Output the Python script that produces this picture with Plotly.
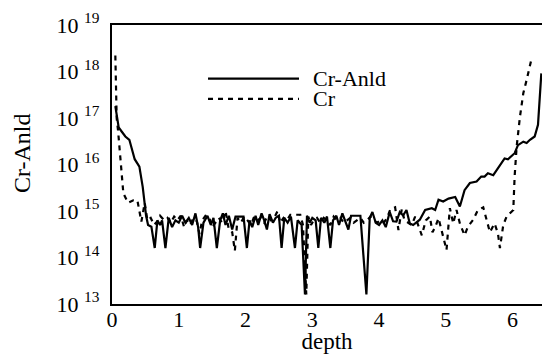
import plotly.graph_objects as go

# ---- data ----
depth_anld = [0.05, 0.10, 0.15, 0.20, 0.26, 0.30, 0.34, 0.41, 0.46, 0.51, 0.54, 0.59, 0.64, 0.68, 0.72,
              0.75, 0.80, 0.85, 0.90, 0.95, 1.00, 1.05, 1.10, 1.15, 1.20, 1.25, 1.29, 1.32, 1.37, 1.43,
              1.48, 1.52, 1.57, 1.62, 1.66, 1.70, 1.75, 1.80, 1.85, 1.92, 1.97, 2.02, 2.06, 2.10, 2.15,
              2.19, 2.24, 2.28, 2.32, 2.36, 2.41, 2.45, 2.50, 2.54, 2.58, 2.63, 2.68, 2.74, 2.78, 2.84,
              2.89, 2.92, 2.96, 3.00, 3.05, 3.09, 3.13, 3.18, 3.22, 3.27, 3.31, 3.36, 3.40, 3.45, 3.50,
              3.54, 3.58, 3.66, 3.72, 3.81, 3.86, 3.90, 3.95, 4.00, 4.05, 4.10, 4.16, 4.21, 4.26, 4.31,
              4.36, 4.41, 4.46, 4.51, 4.61, 4.69, 4.79, 4.84, 4.89, 4.96, 5.04, 5.14, 5.21, 5.28, 5.36,
              5.46, 5.53, 5.58, 5.63, 5.71, 5.81, 5.88, 5.93, 6.03, 6.08, 6.16, 6.21, 6.26, 6.33, 6.38,
              6.43]
cr_anld = [1.8e17, 6.3e16, 5.0e16, 4.0e16, 3.4e16, 2.2e16, 1.3e16, 9.0e15, 3.3e15, 8.0e14, 5.0e14, 4.6e14,
           1.6e14, 6.3e14, 5.0e14, 6.3e14, 1.6e14, 7.1e14, 4.5e14, 6.3e14, 5.6e14, 7.9e14, 5.6e14, 7.1e14,
           5.0e14, 8.9e14, 4.5e14, 1.6e14, 5.6e14, 7.9e14, 5.0e14, 7.1e14, 1.6e14, 6.3e14, 8.9e14, 5.0e14,
           7.9e14, 4.0e14, 7.6e14, 7.6e14, 7.6e14, 1.6e14, 6.3e14, 4.5e14, 7.9e14, 5.0e14, 8.9e14, 6.3e14,
           4.0e14, 8.5e14, 5.6e14, 7.1e14, 7.9e14, 1.6e14, 7.1e14, 5.6e14, 7.6e14, 1.6e14, 6.3e14, 5.0e14,
           1.6e13, 7.9e14, 5.6e14, 7.1e14, 6.3e14, 1.6e14, 7.1e14, 5.6e14, 7.6e14, 1.6e14, 6.3e14, 7.9e14,
           5.0e14, 8.9e14, 5.6e14, 4.0e14, 7.9e14, 7.9e14, 7.9e14, 1.6e13, 7.1e14, 9.5e14, 5.6e14, 5.0e14,
           6.3e14, 4.5e14, 9.5e14, 6.0e14, 5.9e14, 9.5e14, 8.0e14, 1.05e15, 5.4e14, 5.0e14, 6.5e14, 1.05e15,
           1.15e15, 1.05e15, 1.75e15, 1.6e15, 1.85e15, 2.0e15, 1.25e15, 2.8e15, 4.0e15, 4.3e15, 5.5e15,
           5.5e15, 6.5e15, 5.9e15, 9.8e15, 1.35e16, 1.3e16, 1.75e16, 2.6e16, 3.1e16, 2.9e16, 3.4e16, 4.0e16,
           7.1e16, 9.1e17]

depth_cr = [0.05, 0.07, 0.09, 0.14, 0.17, 0.24, 0.32, 0.38, 0.41, 0.44, 0.49, 0.53, 0.58, 0.63, 0.68,
            0.72, 0.78, 0.83, 0.88, 0.93, 0.98, 1.03, 1.08, 1.12, 1.17, 1.22, 1.27, 1.31, 1.35, 1.40,
            1.45, 1.50, 1.55, 1.60, 1.65, 1.70, 1.75, 1.80, 1.84, 1.88, 1.93, 1.98, 2.03, 2.08, 2.13,
            2.18, 2.23, 2.28, 2.33, 2.38, 2.43, 2.48, 2.52, 2.57, 2.62, 2.67, 2.72, 2.77, 2.82, 2.86,
            2.91, 2.94, 2.98, 3.02, 3.07, 3.12, 3.17, 3.22, 3.27, 3.32, 3.37, 3.42, 3.47, 3.52, 3.57,
            3.62, 3.67, 3.72, 3.77, 3.82, 3.87, 3.92, 3.97, 4.02, 4.07, 4.12, 4.17, 4.24, 4.29, 4.34,
            4.38, 4.44, 4.49, 4.54, 4.59, 4.64, 4.70, 4.76, 4.80, 4.84, 4.89, 4.95, 5.01, 5.06, 5.11,
            5.16, 5.21, 5.28, 5.33, 5.41, 5.48, 5.56, 5.61, 5.66, 5.73, 5.78, 5.81, 5.86, 5.91, 6.01,
            6.03, 6.06, 6.11, 6.16, 6.21, 6.28]
cr = [2.2e18, 1.0e17, 5.5e16, 6.5e15, 2.4e15, 1.5e15, 1.7e15, 1.7e15, 1.05e15, 5.9e14, 1.5e15, 6.3e14,
      7.1e14, 5.0e14, 6.0e14, 7.9e14, 6.3e14, 7.1e14, 5.6e14, 7.6e14, 6.3e14, 7.9e14, 4.5e14, 6.3e14,
      5.0e14, 7.1e14, 6.0e14, 3.2e14, 6.3e14, 7.9e14, 7.6e14, 4.5e14, 5.6e14, 7.1e14, 5.6e14, 1.0e15,
      4.0e14, 3.5e14, 1.4e14, 7.1e14, 5.6e14, 7.6e14, 6.3e14, 5.0e14, 7.6e14, 6.3e14, 7.1e14, 5.6e14,
      7.9e14, 6.3e14, 7.1e14, 1.0e15, 5.6e14, 7.1e14, 6.3e14, 8.3e14, 8.3e14, 8.3e14, 8.3e14, 5.0e14,
      1.6e13, 7.6e14, 5.0e14, 6.3e14, 7.1e14, 5.6e14, 7.1e14, 6.3e14, 5.0e14, 7.6e14, 6.3e14, 7.1e14,
      5.6e14, 6.3e14, 7.1e14, 5.6e14, 6.3e14, 7.1e14, 5.6e14, 6.3e14, 7.6e14, 6.3e14, 5.6e14, 6.3e14,
      5.6e14, 7.1e14, 1.1e15, 1.2e15, 3.9e14, 1.1e15, 6.3e14, 5.6e14, 5.0e14, 7.6e14, 4.5e14, 3.0e14,
      6.3e14, 7.6e14, 3.5e14, 4.5e14, 7.0e14, 3.3e14, 1.45e14, 1.15e15, 5.4e14, 1.05e15, 5.4e14, 3.0e14,
      4.6e14, 6.5e14, 1.05e15, 1.2e15, 6.5e14, 3.5e14, 5.4e14, 3.3e14, 1.6e14, 5.0e14, 7.6e14, 1.05e15,
      5.5e15, 2.4e16, 1.07e17, 3.4e17, 6.6e17, 1.8e18]

y_tickvals = [1e13, 1e14, 1e15, 1e16, 1e17, 1e18, 1e19]
y_ticktext = ["10 <sup>13</sup>", "10 <sup>14</sup>", "10 <sup>15</sup>", "10 <sup>16</sup>",
              "10 <sup>17</sup>", "10 <sup>18</sup>", "10 <sup>19</sup>"]
x_tickvals = [0, 1, 2, 3, 4, 5, 6]
legend_names = ["Cr-Anld", "Cr"]
x_title = "depth"
y_title = "Cr-Anld"

FONT = "Liberation Serif, Times New Roman, Times, serif"

fig = go.Figure()
fig.add_trace(go.Scatter(x=depth_anld, y=cr_anld, mode="lines", name=legend_names[0],
                         line=dict(color="black", width=2.2), showlegend=False))
fig.add_trace(go.Scatter(x=depth_cr, y=cr, mode="lines", name=legend_names[1],
                         line=dict(color="black", width=2.2, dash="5px,5px"), showlegend=False))

# manual legend (line samples + labels) placed like the reference
leg_x0, leg_x1, txt_x = 0.2233, 0.4349, 0.4628
leg_y = [0.808, 0.735]
styles = ["solid", "5px,5px"]
for name, yy, st in zip(legend_names, leg_y, styles):
    fig.add_shape(type="line", xref="paper", yref="paper", x0=leg_x0, x1=leg_x1, y0=yy, y1=yy,
                  line=dict(color="black", width=2.2, dash=st))
    fig.add_annotation(xref="paper", yref="paper", x=txt_x, y=yy, text=name, showarrow=False,
                       xanchor="left", yanchor="middle", font=dict(family=FONT, size=22, color="black"))

# y-axis title, placed (slightly above centre) as in the reference
fig.add_annotation(xref="paper", yref="paper", x=-0.2093, y=0.541, text=y_title, showarrow=False,
                   textangle=-90, xanchor="center", yanchor="middle",
                   font=dict(family=FONT, size=24, color="black"))

fig.update_layout(
    width=542, height=354,
    margin=dict(l=112, r=0, t=25, b=50, autoexpand=False),
    paper_bgcolor="white", plot_bgcolor="white",
    font=dict(family=FONT, size=22, color="black"),
    showlegend=False,
)
fig.update_xaxes(range=[0, 6.44], tickvals=x_tickvals, showgrid=False, zeroline=False,
                 showline=True, linecolor="black", linewidth=2.2, mirror=True, ticks="",
                 ticklabelstandoff=-6, automargin=False,
                 title=dict(text=x_title, standoff=4, font=dict(size=23)))
fig.update_yaxes(type="log", range=[13, 19], tickvals=y_tickvals, ticktext=y_ticktext,
                 showgrid=False, zeroline=False, showline=True, linecolor="black", linewidth=2.2,
                 ticks="", ticklabelstandoff=6, automargin=False)

fig.write_html("out.html", post_script="document.body.style.margin='0';",
               config={"displayModeBar": False})
